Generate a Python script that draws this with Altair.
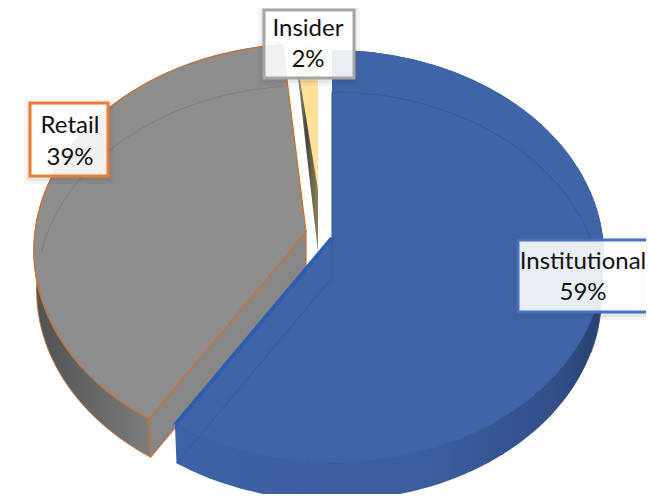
import math
import altair as alt
import pandas as pd

categories = ["Institutional", "Retail", "Insider"]
shares = [59.0, 39.5, 1.5]
label_pct = ["59%", "39%", "2%"]

# pie geometry (page pixels)
R, RY, PERSP = 271, 204.8, 0.0894
KB, DEPTH = 0.99, 40
CENTERS = {"Institutional": (332, 238), "Retail": (306, 232), "Insider": (318, 235)}

ends = []
acc = 0
for s in shares:
    ends.append((acc * 3.6, (acc + s) * 3.6))
    acc += s


def pt(c, deg):
    t = math.radians(deg)
    w = 1 + PERSP * math.cos(t)
    return [c[0] + R * math.sin(t) / w, c[1] - RY * math.cos(t) / w]


def low(c, p):
    return [c[0] + (p[0] - c[0]) * KB, c[1] + (p[1] - c[1]) * KB + DEPTH]


def arc(c, a, b, n=90):
    return [pt(c, a + (b - a) * i / n) for i in range(n + 1)]


def poly(points):
    pts = [list(p) for p in points] + [list(points[0])]
    return [{"type": "Feature", "properties": {}, "geometry": {"type": "Polygon", "coordinates": [pts]}}]


def path(points):
    return [{"type": "Feature", "properties": {}, "geometry": {"type": "LineString", "coordinates": [list(p) for p in points]}}]


proj = alt.Projection(type="identity", scale=1, translate=[-8, -8])


def shape(feats, **kw):
    return alt.Chart(alt.Data(values=feats)).mark_geoshape(**kw).project(**proj.to_dict())


def grad(stops, x1=0, x2=1, y1=0, y2=0):
    return alt.LinearGradient(
        gradient="linear", x1=x1, x2=x2, y1=y1, y2=y2,
        stops=[alt.GradientStop(offset=o, color=c) for o, c in stops],
    )


ORANGE = "#C4733A"
layers = []

# Retail
c = CENTERS["Retail"]
a, b = ends[1]
top = arc(c, a, b)
bot = [low(c, p) for p in top]
layers.append(shape(poly(top + bot[::-1]), fill=grad([(0, "#4F5052"), (0.14, "#5c5d5e"), (0.5, "#808080"), (1, "#8c8c8c")]), stroke=ORANGE, strokeWidth=1))
layers.append(shape(poly([c, top[0], bot[0], low(c, c)]), fill="#878787", stroke=ORANGE, strokeWidth=1.2))
layers.append(shape(poly([c] + top), fill="#8D8D8D", stroke=ORANGE, strokeWidth=1.3))
layers.append(shape(path(bot[40:]), filled=False, stroke="#7c7c7c", strokeWidth=1))

# Insider
c = CENTERS["Insider"]
a, b = ends[2]
top = arc(c, a, b, 12)
layers.append(shape(poly([c] + top), fill="#FFE199", strokeWidth=0))
layers.append(shape(poly([top[0], [c[0], c[1] - 45], [c[0], c[1] + 17]]),
                    fill=grad([(0, "#BDBDB0"), (0.5, "#45443c"), (1, "#8f8258")]), strokeWidth=0))

# Institutional
c = CENTERS["Institutional"]
a, b = ends[0]
top = arc(c, a, b, 180)
bot = [low(c, p) for p in top]
layers.append(shape(poly(top + bot[::-1]), fill=grad([(0, "#3D62A6"), (0.6, "#3B5D9F"), (0.88, "#324F88"), (1, "#27406E")]), strokeWidth=0))
layers.append(shape(poly([c] + top), fill="#3F64A7", strokeWidth=0))
layers.append(shape(path(top[85:]), filled=False, stroke="#2F5BA6", strokeWidth=1))
layers.append(shape(path([low(c, c)] + bot[:95]), filled=False, stroke="#34588F", strokeWidth=1))
layers.append(shape(path([low(c, c), bot[-1]]), filled=False, stroke="#2F5BA6", strokeWidth=1))
layers.append(shape(path([c, top[-1]]), filled=False, stroke="#2F5DAE", strokeWidth=4))

# Labels
boxes = [
    dict(x=518, x2=664, y=240, y2=312, stroke="#4472C4"),
    dict(x=30, x2=108, y=103, y2=176, stroke="#ED7D31"),
    dict(x=264, x2=354, y=10, y2=78, stroke="#A5A5A5"),
]
centers = [(583, 262, 293), (70, 126, 158), (308, 29, 60)]
dummy = pd.DataFrame({"a": [0]})
for box, (cx, y1, y2), name, pct in zip(boxes, centers, categories, label_pct):
    for grow, op in ((6, 0.05), (3, 0.07)):
        layers.append(
            alt.Chart(dummy).mark_rect(fill="#333333", fillOpacity=op).encode(
                x=alt.value(box["x"] - 8 - grow), x2=alt.value(box["x2"] - 8 + grow),
                y=alt.value(box["y"] - 8 - grow + 2), y2=alt.value(box["y2"] - 8 + grow + 2)
            )
        )
    layers.append(
        alt.Chart(dummy).mark_rect(fill="white", fillOpacity=0.89, stroke=box["stroke"], strokeWidth=3).encode(
            x=alt.value(box["x"] - 8), x2=alt.value(box["x2"] - 8), y=alt.value(box["y"] - 8), y2=alt.value(box["y2"] - 8)
        )
    )
    for txt, yy in ((name, y1), (pct, y2)):
        layers.append(
            alt.Chart(pd.DataFrame({"t": [txt]})).mark_text(font="Lato", fontSize=24, color="#111111", baseline="middle", align="center").encode(
                text="t:N", x=alt.value(cx - 8), y=alt.value(yy - 8)
            )
        )

chart = (
    alt.layer(*layers)
    .properties(width=638, height=486, padding=0, autosize=alt.AutoSizeParams(type="none"), background="white")
    .configure_view(stroke=None)
)
chart.save("out.html", embed_options={"renderer": "svg", "actions": False})
